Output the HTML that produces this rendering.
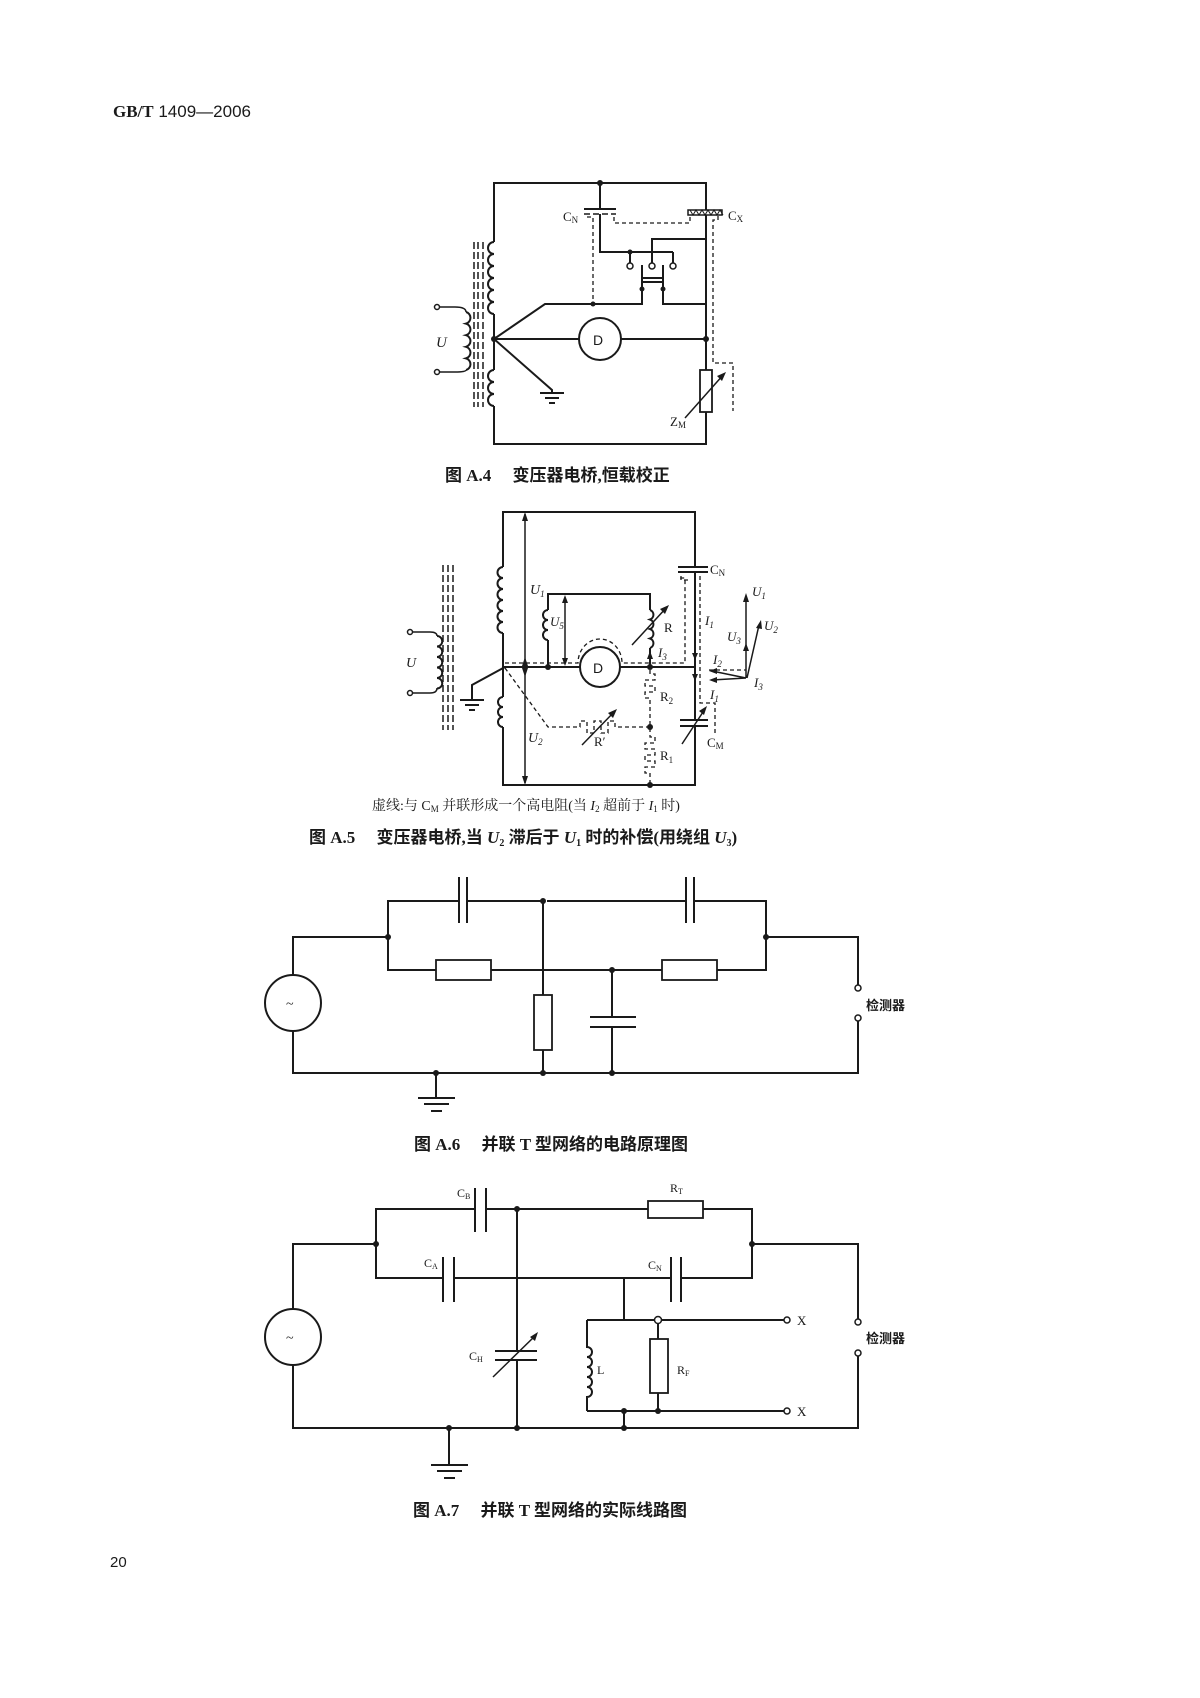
<!DOCTYPE html>
<html><head><meta charset="utf-8">
<style>
html,body{margin:0;padding:0;background:#fff;}
svg{display:block;}
text{font-family:"Liberation Serif","Noto Serif CJK SC",serif;fill:#1a1a1a;}
.cap{font-family:"Liberation Serif","Noto Sans CJK SC",sans-serif;font-weight:bold;font-size:17px;}
.w{stroke:#1a1a1a;stroke-width:2;fill:none;}
.t{stroke:#1a1a1a;stroke-width:1.5;fill:none;}
.d{stroke:#1a1a1a;stroke-width:1.3;fill:none;stroke-dasharray:4 3;}
.core{stroke:#1a1a1a;stroke-width:1.5;fill:none;stroke-dasharray:7 3;}
.dot{fill:#1a1a1a;}
.o{fill:#fff;stroke:#1a1a1a;stroke-width:1.5;}
</style></head>
<body>
<svg width="1200" height="1698" viewBox="0 0 1200 1698" xmlns="http://www.w3.org/2000/svg">
<text x="113" y="117" style="font-family:'Liberation Sans',sans-serif;font-size:17px;"><tspan font-weight="bold" font-family="Liberation Serif">GB/T</tspan> 1409—2006</text>

<!-- ===== A.4 ===== -->
<g>
<path class="w" d="M494 242 V183 H706 V444 H494 V406"/>
<path class="w" d="M494 314 V370"/>
<path class="w" d="M494 242 a6 6 0 0 0 0 12 a6 6 0 0 0 0 12 a6 6 0 0 0 0 12 a6 6 0 0 0 0 12 a6 6 0 0 0 0 12 a6 6 0 0 0 0 12"/>
<path class="w" d="M494 370 a6 6 0 0 0 0 12 a6 6 0 0 0 0 12 a6 6 0 0 0 0 12"/>
<path class="t" d="M437 307 H455 Q466 307 466 312"/>
<path class="w" d="M466 312 a6 6 0 0 1 0 11.6 a6 6 0 0 1 0 11.6 a6 6 0 0 1 0 11.6 a6 6 0 0 1 0 11.6 a6 6 0 0 1 0 11.6"/>
<path class="t" d="M466 370 Q466 372 455 372 H437"/>
<circle class="o" cx="437" cy="307" r="2.5"/><circle class="o" cx="437" cy="372" r="2.5"/>
<text x="436" y="347" font-style="italic" font-size="15">U</text>
<path class="core" d="M474 242 V407 M478 242 V407 M483 242 V407"/>
<circle class="dot" cx="600" cy="183" r="3"/>
<path class="w" d="M600 183 V209 M584 209 H616"/>
<path class="t" d="M584 214 H616" stroke-dasharray="6 3"/>
<path class="w" d="M600 214 V252 H673"/>
<text x="563" y="221" font-size="13">C<tspan font-size="9" dy="2">N</tspan></text>
<circle class="dot" cx="630" cy="252" r="2.5"/>
<path class="w" d="M630 252 V263 M673 252 V263 M652 263 V239 H706"/>
<circle class="o" cx="630" cy="266" r="3"/><circle class="o" cx="652" cy="266" r="3"/><circle class="o" cx="673" cy="266" r="3"/>
<path class="w" d="M642 265 V304 H545 L494 339 M663 265 V304 H706"/>
<path class="w" d="M642 278 H663 M642 282 H663"/>
<circle class="dot" cx="642" cy="289" r="2.5"/><circle class="dot" cx="663" cy="289" r="2.5"/>
<circle class="dot" cx="494" cy="339" r="3"/>
<path class="w" d="M494 339 H579 M621 339 H706"/>
<circle class="w" cx="600" cy="339" r="21"/>
<text x="593" y="345" font-size="14" style="font-family:'Liberation Sans',sans-serif">D</text>
<circle class="dot" cx="706" cy="339" r="3"/>
<path class="w" d="M494 339 L552 390 V393 M540 393 H564 M545 398 H559 M549 403 H555"/>
<rect x="688" y="210" width="34" height="5" fill="#fff" stroke="#1a1a1a" stroke-width="1.5"/>
<path d="M690 210 l3 5 l3 -5 l3 5 l3 -5 l3 5 l3 -5 l3 5 l3 -5 l3 5 l3 -5 l3 5" stroke="#1a1a1a" stroke-width="1" fill="none"/>
<text x="728" y="220" font-size="13">C<tspan font-size="9" dy="2">X</tspan></text>
<path class="d" d="M587 217 H593 V304 M614 217 V223 H690 V215 M718 216 V220 H713 V363 H733 V411"/>
<circle class="dot" cx="593" cy="304" r="2.5"/>
<rect x="700" y="370" width="12" height="42" fill="#fff" stroke="#1a1a1a" stroke-width="1.8"/>
<path class="t" d="M685 418 L724 374"/><path class="dot" d="M726 372 L717 376 L722 381 Z"/>
<text x="670" y="426" font-size="13">Z<tspan font-size="9" dy="2">M</tspan></text>
<text x="445" y="481" class="cap">图 A.4　 变压器电桥,恒载校正</text>
</g>

<!-- ===== A.5 ===== -->
<g>
<path class="w" d="M503 567 V512 H695 V567 M695 572 V720 M695 726 V785 H503 V727 M503 697 V633"/>
<path class="w" d="M503 567 a5.5 5.5 0 0 0 0 11 a5.5 5.5 0 0 0 0 11 a5.5 5.5 0 0 0 0 11 a5.5 5.5 0 0 0 0 11 a5.5 5.5 0 0 0 0 11 a5.5 5.5 0 0 0 0 11"/>
<path class="w" d="M503 697 a5 5 0 0 0 0 10 a5 5 0 0 0 0 10 a5 5 0 0 0 0 10"/>
<path class="w" d="M503 667 H580 M620 667 H695"/>
<circle class="w" cx="600" cy="667" r="20"/>
<text x="593" y="673" font-size="14" style="font-family:'Liberation Sans',sans-serif">D</text>
<path class="t" d="M525 514 V783"/>
<path class="dot" d="M525 512 l-3 9 h6z M525 657 l-3 9 h6z M525 677 l-3 -9 h6z M525 785 l-3 -9 h6z"/>
<text x="530" y="594" font-style="italic" font-size="14">U<tspan font-size="9" dy="3">1</tspan></text>
<text x="528" y="742" font-style="italic" font-size="14">U<tspan font-size="9" dy="3">2</tspan></text>
<path class="w" d="M505 667 L472 685 V700 M460 700 H484 M465 705 H479 M469 710 H475"/>
<path class="t" d="M410 632 H430 Q437 632 437 636"/>
<path class="w" d="M437 636 a5 5 0 0 1 0 10.5 a5 5 0 0 1 0 10.5 a5 5 0 0 1 0 10.5 a5 5 0 0 1 0 10.5 a5 5 0 0 1 0 10.5"/>
<path class="t" d="M437 688 Q437 693 430 693 H410"/>
<circle class="o" cx="410" cy="632" r="2.5"/><circle class="o" cx="410" cy="693" r="2.5"/>
<text x="406" y="667" font-style="italic" font-size="14">U</text>
<path class="core" d="M443 565 V730 M448 565 V730 M453 565 V730"/>
<path class="w" d="M548 667 V640 M548 610 V594 H650 V610 M650 648 V667"/>
<path class="w" d="M548 610 a5 5 0 0 0 0 10 a5 5 0 0 0 0 10 a5 5 0 0 0 0 10"/>
<path class="w" d="M650 610 a5 5 0 0 1 0 9.5 a5 5 0 0 1 0 9.5 a5 5 0 0 1 0 9.5 a5 5 0 0 1 0 9.5"/>
<path class="t" d="M632 645 L667 607"/><path class="dot" d="M669 605 L660 609 L665 614 Z"/>
<path class="t" d="M565 598 V663"/><path class="dot" d="M565 595 l-3 8 h6z M565 666 l-3 -8 h6z"/>
<path class="dot" d="M650 651 l-3 8 h6z"/>
<circle class="dot" cx="548" cy="667" r="3"/><circle class="dot" cx="650" cy="667" r="3"/>
<text x="550" y="626" font-style="italic" font-size="13">U<tspan font-size="9" dy="3">5</tspan></text>
<text x="664" y="632" font-size="13">R</text>
<text x="658" y="657" font-style="italic" font-size="13">I<tspan font-size="9" dy="3">3</tspan></text>
<path class="d" d="M505 663 H578 A22 24 0 0 1 622 663 H685 V578 H680"/>
<path class="d" d="M650 670 V674 H655 V680 H645 V686 H655 V692 H645 V698 H650 V737 H655 V743 H645 V749 H655 V755 H645 V761 H655 V767 H645 V773 H650 V785"/>
<circle class="dot" cx="650" cy="727" r="3"/><circle class="dot" cx="650" cy="785" r="3"/>
<text x="660" y="701" font-size="13">R<tspan font-size="9" dy="3">2</tspan></text>
<text x="660" y="760" font-size="13">R<tspan font-size="9" dy="3">1</tspan></text>
<path class="d" d="M505 668 L548 727 H580 V721 H587 V733 H594 V721 H601 V733 H608 V721 H615 V727 H650"/>
<path class="t" d="M582 745 L615 711"/><path class="dot" d="M617 709 L608 713 L613 718 Z"/>
<text x="594" y="746" font-size="13">R′</text>
<path class="w" d="M678 567 H708 M678 572 H708"/>
<text x="710" y="574" font-size="13">C<tspan font-size="9" dy="2">N</tspan></text>
<path class="d" d="M681 576 V580 H688 M700 576 V703 H715 V735"/>
<path class="dot" d="M695 660 l-3 -7 h6z M695 681 l-3 -7 h6z"/>
<text x="705" y="625" font-style="italic" font-size="13">I<tspan font-size="9" dy="3">1</tspan></text>
<text x="710" y="699" font-style="italic" font-size="13">I<tspan font-size="9" dy="3">1</tspan></text>
<path class="w" d="M680 720 H708 M680 726 H708"/>
<path class="t" d="M682 744 L705 709"/><path class="dot" d="M707 706 L699 711 L704 715 Z"/>
<text x="707" y="747" font-size="13">C<tspan font-size="9" dy="2">M</tspan></text>
<path class="t" d="M746 678 V597 M747 678 L759 625 M746 678 L712 671 M746 678 L712 680"/>
<path class="dot" d="M746 593 l-3 9 h6z M746 643 l-3 8 h6z M761 620 l-5 8 l6 1z M709 671 l8 -3 v6z M709 680 l8 -3 v6z"/>
<path class="d" d="M709 670 H746"/>
<text x="752" y="596" font-style="italic" font-size="13">U<tspan font-size="9" dy="3">1</tspan></text>
<text x="764" y="630" font-style="italic" font-size="13">U<tspan font-size="9" dy="3">2</tspan></text>
<text x="727" y="641" font-style="italic" font-size="13">U<tspan font-size="9" dy="3">3</tspan></text>
<text x="713" y="664" font-style="italic" font-size="13">I<tspan font-size="9" dy="3">2</tspan></text>
<text x="754" y="687" font-style="italic" font-size="13">I<tspan font-size="9" dy="3">3</tspan></text>
<text x="372" y="810" font-size="14">虚线:与 C<tspan font-size="9" dy="2">M</tspan><tspan dy="-2"> 并联形成一个高电阻(当 </tspan><tspan font-style="italic">I</tspan><tspan font-size="9" dy="2">2</tspan><tspan dy="-2"> 超前于 </tspan><tspan font-style="italic">I</tspan><tspan font-size="9" dy="2">1</tspan><tspan dy="-2"> 时)</tspan></text>
<text x="309" y="843" class="cap">图 A.5　 变压器电桥,当 <tspan font-style="italic">U</tspan><tspan font-size="10" dy="3">2</tspan><tspan dy="-3"> 滞后于 </tspan><tspan font-style="italic">U</tspan><tspan font-size="10" dy="3">1</tspan><tspan dy="-3"> 时的补偿(用绕组 </tspan><tspan font-style="italic">U</tspan><tspan font-size="10" dy="3">3</tspan><tspan dy="-3">)</tspan></text>
</g>

<!-- ===== A.6 ===== -->
<g>
<path class="w" d="M293 975 V937 H388 V970 H436 M491 970 H662 M717 970 H766 V901 H694 M686 901 H547 M543 901 V995 M543 1050 V1073 M388 937 V901 H459 M467 901 H543 M766 937 H858 V985 M858 1021 V1073 H293 V1031"/>
<path class="w" d="M459 877 V923 M467 877 V923 M686 877 V923 M694 877 V923"/>
<rect x="436" y="960" width="55" height="20" fill="#fff" stroke="#1a1a1a" stroke-width="1.8"/>
<rect x="662" y="960" width="55" height="20" fill="#fff" stroke="#1a1a1a" stroke-width="1.8"/>
<rect x="534" y="995" width="18" height="55" fill="#fff" stroke="#1a1a1a" stroke-width="1.8"/>
<path class="w" d="M612 970 V1017 M590 1017 H636 M590 1027 H636 M612 1027 V1073"/>
<ellipse cx="293" cy="1003" rx="28" ry="28" class="w"/>
<text x="286" y="1008" font-size="14">~</text>
<circle class="dot" cx="388" cy="937" r="3"/><circle class="dot" cx="766" cy="937" r="3"/>
<circle class="dot" cx="543" cy="901" r="3"/><circle class="dot" cx="612" cy="970" r="3"/>
<circle class="dot" cx="543" cy="1073" r="3"/><circle class="dot" cx="612" cy="1073" r="3"/><circle class="dot" cx="436" cy="1073" r="3"/>
<circle class="o" cx="858" cy="988" r="3"/><circle class="o" cx="858" cy="1018" r="3"/>
<text x="866" y="1010" font-size="13" font-weight="bold" style="font-family:'Noto Sans CJK SC',sans-serif">检测器</text>
<path class="w" d="M436 1073 V1098 M418 1098 H455 M424 1104 H449 M431 1111 H442"/>
<text x="414" y="1150" class="cap">图 A.6　 并联 T 型网络的电路原理图</text>
</g>

<!-- ===== A.7 ===== -->
<g>
<path class="w" d="M293 1309 V1244 H376 V1209 H475 M486 1209 H648 M703 1209 H752 V1278 H681 M671 1278 H454 M443 1278 H376 V1244 M752 1244 H858 V1319 M858 1356 V1428 H293 V1365"/>
<path class="w" d="M475 1188 V1232 M486 1188 V1232 M443 1257 V1302 M454 1257 V1302 M671 1257 V1302 M681 1257 V1302"/>
<rect x="648" y="1201" width="55" height="17" fill="#fff" stroke="#1a1a1a" stroke-width="1.8"/>
<path class="w" d="M517 1209 V1351 M495 1351 H537 M495 1360 H537 M517 1360 V1428"/>
<path class="t" d="M493 1377 L536 1335"/><path class="dot" d="M538 1332 L530 1337 L535 1341 Z"/>
<path class="w" d="M624 1278 V1320 M587 1320 H784 M587 1411 H784 M624 1411 V1428 M658 1320 V1339 M658 1393 V1411"/>
<path class="w" d="M587 1320 V1347 a5 5 0 0 1 0 10 a5 5 0 0 1 0 10 a5 5 0 0 1 0 10 a5 5 0 0 1 0 10 a5 5 0 0 1 0 10 V1411"/>
<rect x="650" y="1339" width="18" height="54" fill="#fff" stroke="#1a1a1a" stroke-width="1.8"/>
<ellipse cx="293" cy="1337" rx="28" ry="28" class="w"/>
<text x="286" y="1342" font-size="14">~</text>
<circle class="dot" cx="376" cy="1244" r="3"/><circle class="dot" cx="752" cy="1244" r="3"/>
<circle class="dot" cx="517" cy="1209" r="3"/><circle class="dot" cx="517" cy="1428" r="3"/>
<circle class="dot" cx="624" cy="1411" r="3"/><circle class="dot" cx="624" cy="1428" r="3"/><circle class="dot" cx="658" cy="1411" r="3"/><circle class="dot" cx="449" cy="1428" r="3"/>
<circle class="o" cx="658" cy="1320" r="3.5"/>
<circle class="o" cx="787" cy="1320" r="3"/><circle class="o" cx="787" cy="1411" r="3"/>
<circle class="o" cx="858" cy="1322" r="3"/><circle class="o" cx="858" cy="1353" r="3"/>
<text x="797" y="1325" font-size="13">X</text><text x="797" y="1416" font-size="13">X</text>
<text x="866" y="1343" font-size="13" font-weight="bold" style="font-family:'Noto Sans CJK SC',sans-serif">检测器</text>
<text x="457" y="1197" font-size="12">C<tspan font-size="8" dy="2">B</tspan></text>
<text x="670" y="1192" font-size="12">R<tspan font-size="8" dy="2">T</tspan></text>
<text x="424" y="1267" font-size="12">C<tspan font-size="8" dy="2">A</tspan></text>
<text x="648" y="1269" font-size="12">C<tspan font-size="8" dy="2">N</tspan></text>
<text x="469" y="1360" font-size="12">C<tspan font-size="8" dy="2">H</tspan></text>
<text x="597" y="1374" font-size="12">L</text>
<text x="677" y="1374" font-size="12">R<tspan font-size="8" dy="2">F</tspan></text>
<path class="w" d="M449 1428 V1465 M431 1465 H468 M437 1471 H462 M444 1478 H455"/>
<text x="413" y="1516" class="cap">图 A.7　 并联 T 型网络的实际线路图</text>
</g>
<text x="110" y="1567" font-size="15" style="font-family:'Liberation Sans',sans-serif">20</text>
</svg>
</body></html>
